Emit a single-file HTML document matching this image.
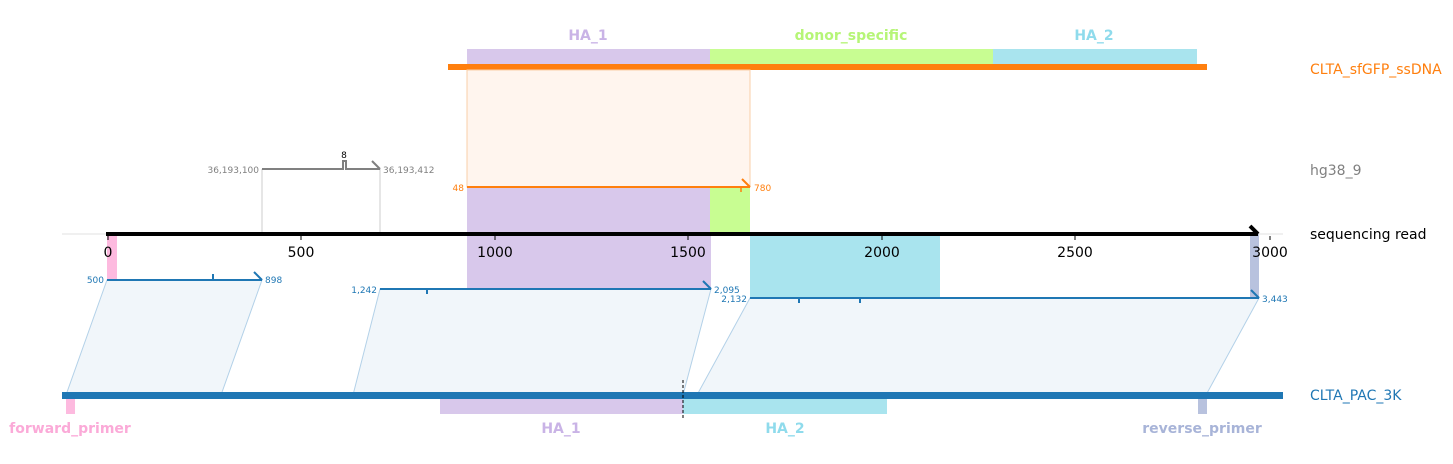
<!DOCTYPE html>
<html><head><meta charset="utf-8"><style>body{margin:0;background:#fff}svg{display:block}text{font-family:"DejaVu Sans","Liberation Sans",sans-serif}</style></head><body>
<svg width="1453" height="464" viewBox="0 0 1453 464" xmlns="http://www.w3.org/2000/svg">
<g font-size="14" font-weight="bold" text-anchor="middle">
<text x="588" y="40" fill="#c9b3e6">HA_1</text>
<text x="851" y="40" fill="#b6f577">donor_specific</text>
<text x="1094" y="40" fill="#8fdbec">HA_2</text>
</g>
<rect x="467" y="49" width="243" height="18" fill="#d8c8eb"/>
<rect x="710" y="49" width="283" height="18" fill="#c8fd92"/>
<rect x="993" y="49" width="204" height="18" fill="#a9e4ee"/>
<rect x="448" y="64" width="759" height="6" fill="#ff7f0e"/>
<text x="1310" y="74" font-size="14" fill="#ff7f0e">CLTA_sfGFP_ssDNA</text>
<rect x="467" y="70" width="283" height="117" fill="#fff5ee" stroke="#f9cfa8" stroke-width="1"/>
<rect x="467" y="187" width="243" height="47" fill="#d8c8eb"/>
<rect x="710" y="187" width="40" height="47" fill="#c8fd92"/>
<line x1="467" y1="187" x2="750" y2="187" stroke="#ff7f0e" stroke-width="2"/>
<line x1="742" y1="179" x2="750" y2="187" stroke="#ff7f0e" stroke-width="2"/>
<line x1="741" y1="187" x2="741" y2="192" stroke="#ff7f0e" stroke-width="1.5"/>
<text x="464" y="191" font-size="9" fill="#ff7f0e" text-anchor="end">48</text>
<text x="754" y="191" font-size="9" fill="#ff7f0e">780</text>
<text x="1310" y="175" font-size="14" fill="#808080">hg38_9</text>
<line x1="262" y1="169" x2="262" y2="234" stroke="#ccc" stroke-width="1"/>
<line x1="380" y1="169" x2="380" y2="234" stroke="#ccc" stroke-width="1"/>
<polyline points="262,169 343,169 343,161 346,161 346,169 380,169" fill="none" stroke="#808080" stroke-width="2"/>
<line x1="372" y1="161" x2="380" y2="169" stroke="#808080" stroke-width="2"/>
<text x="344" y="158" font-size="9" fill="#000" text-anchor="middle">8</text>
<text x="259" y="173" font-size="9" fill="#808080" text-anchor="end">36,193,100</text>
<text x="383" y="173" font-size="9" fill="#808080">36,193,412</text>
<rect x="107" y="234" width="10" height="46" fill="#fdbadf"/>
<rect x="467" y="234" width="244" height="55" fill="#d8c8eb"/>
<rect x="750" y="234" width="190" height="64" fill="#a9e4ee"/>
<rect x="1250" y="234" width="9" height="64" fill="#b8c2de"/>
<line x1="62" y1="234" x2="1283" y2="234" stroke="#e0e0e0" stroke-width="1"/>
<line x1="106" y1="234" x2="1258" y2="234" stroke="#000" stroke-width="4"/>
<line x1="1250" y1="226" x2="1258" y2="234" stroke="#000" stroke-width="4"/>
<g stroke="#000" stroke-width="1">
<line x1="108" y1="236" x2="108" y2="240"/><line x1="301" y1="236" x2="301" y2="240"/><line x1="495" y1="236" x2="495" y2="240"/><line x1="688" y1="236" x2="688" y2="240"/><line x1="882" y1="236" x2="882" y2="240"/><line x1="1075" y1="236" x2="1075" y2="240"/><line x1="1270" y1="236" x2="1270" y2="240"/></g>
<g font-size="14" text-anchor="middle" fill="#000">
<text x="108" y="257">0</text><text x="301" y="257">500</text><text x="495" y="257">1000</text><text x="688" y="257">1500</text><text x="882" y="257">2000</text><text x="1075" y="257">2500</text><text x="1270" y="257">3000</text></g>
<text x="1310" y="239" font-size="14" fill="#000">sequencing read</text>
<g fill="#f1f6fa" stroke="#b3d1e8" stroke-width="1">
<polygon points="107,280 262,280 221,395 66,395"/>
<polygon points="380,289 711,289 683,395 353,395"/>
<polygon points="750,298 1259,298 1206,395 697,395"/>
</g>
<g stroke="#1f77b4" stroke-width="2" fill="none">
<line x1="107" y1="280" x2="262" y2="280"/><line x1="254" y1="272" x2="262" y2="280"/><line x1="213" y1="274" x2="213" y2="280"/>
<line x1="380" y1="289" x2="711" y2="289"/><line x1="703" y1="281" x2="711" y2="289"/><line x1="427" y1="289" x2="427" y2="294"/>
<line x1="750" y1="298" x2="1259" y2="298"/><line x1="1251" y1="290" x2="1259" y2="298"/><line x1="799" y1="298" x2="799" y2="303"/><line x1="860" y1="298" x2="860" y2="303"/>
</g>
<g font-size="9" fill="#1f77b4">
<text x="104" y="283" text-anchor="end">500</text><text x="265" y="283">898</text>
<text x="377" y="293" text-anchor="end">1,242</text><text x="714" y="293">2,095</text>
<text x="747" y="302" text-anchor="end">2,132</text><text x="1262" y="302">3,443</text>
</g>
<rect x="62" y="392" width="1221" height="7" fill="#1f77b4"/>
<text x="1310" y="400" font-size="14" fill="#1f77b4">CLTA_PAC_3K</text>
<rect x="66" y="399" width="9" height="15" fill="#fdbadf"/>
<rect x="440" y="399" width="243" height="15" fill="#d8c8eb"/>
<rect x="683" y="399" width="204" height="15" fill="#a9e4ee"/>
<rect x="1198" y="399" width="9" height="15" fill="#b8c2de"/>
<line x1="683" y1="380" x2="683" y2="419" stroke="#000" stroke-width="1" stroke-dasharray="3,2"/>
<g font-size="14" font-weight="bold" text-anchor="middle">
<text x="70" y="433" fill="#fbaad8">forward_primer</text>
<text x="561" y="433" fill="#c9b3e6">HA_1</text>
<text x="785" y="433" fill="#8fdbec">HA_2</text>
<text x="1202" y="433" fill="#a8b4d8">reverse_primer</text>
</g>
</svg>
</body></html>
